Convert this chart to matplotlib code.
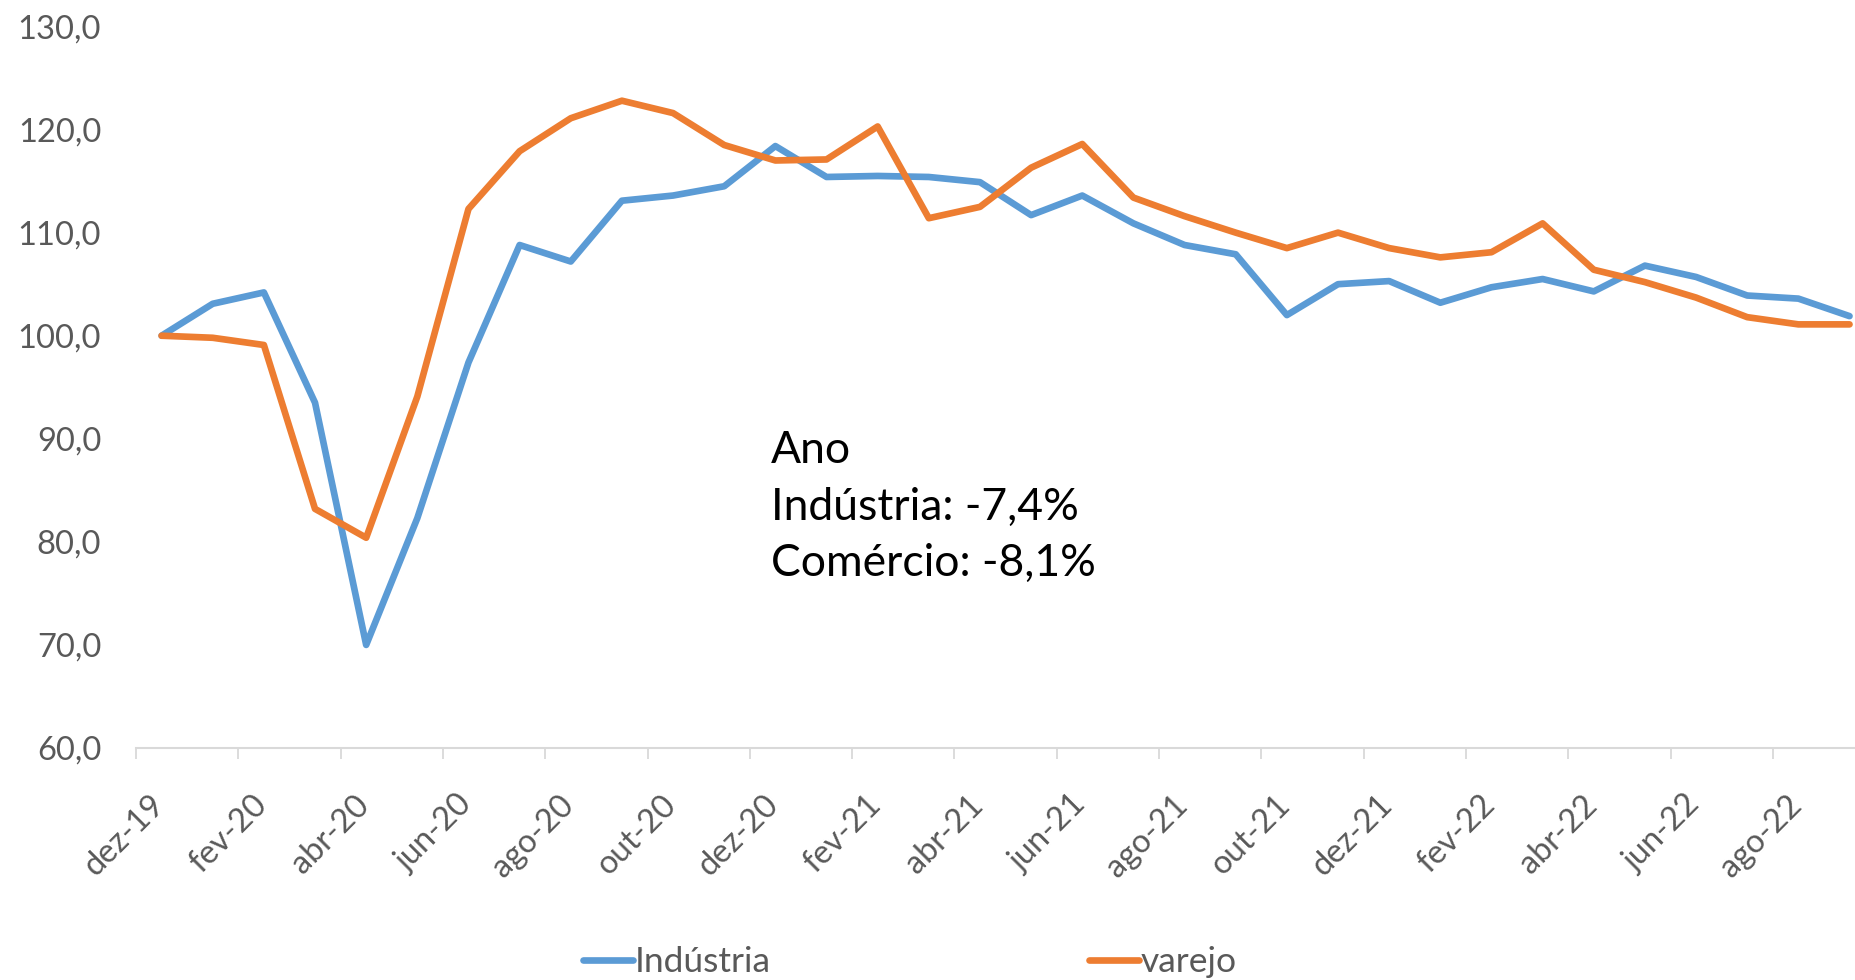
import matplotlib
matplotlib.use("Agg")
import matplotlib.pyplot as plt
from matplotlib.ticker import FixedLocator, FuncFormatter
from matplotlib.transforms import ScaledTranslation

months = ["dez-19", "jan-20", "fev-20", "mar-20", "abr-20", "mai-20", "jun-20", "jul-20",
          "ago-20", "set-20", "out-20", "nov-20", "dez-20", "jan-21", "fev-21", "mar-21",
          "abr-21", "mai-21", "jun-21", "jul-21", "ago-21", "set-21", "out-21", "nov-21",
          "dez-21", "jan-22", "fev-22", "mar-22", "abr-22", "mai-22", "jun-22", "jul-22",
          "ago-22", "set-22"]

industria = [100.0, 103.1, 104.2, 93.5, 70.0, 82.3, 97.4, 108.8, 107.2, 113.1, 113.6, 114.5,
             118.4, 115.4, 115.5, 115.4, 114.9, 111.7, 113.6, 110.9, 108.8, 107.9, 102.0, 105.0,
             105.3, 103.2, 104.7, 105.5, 104.3, 106.8, 105.7, 103.9, 103.6, 101.9]

varejo = [100.0, 99.8, 99.1, 83.2, 80.4, 94.1, 112.3, 117.9, 121.1, 122.8, 121.6, 118.5,
          117.0, 117.1, 120.3, 111.4, 112.5, 116.3, 118.6, 113.4, 111.6, 110.0, 108.5, 110.0,
          108.5, 107.6, 108.1, 110.9, 106.4, 105.2, 103.7, 101.8, 101.1, 101.1]

y_ticks = [60, 70, 80, 90, 100, 110, 120, 130]
annotation = "Ano\nIndústria: -7,4%\nComércio: -8,1%"

plt.rcParams['font.family'] = ['Lato', 'DejaVu Sans']

W, H = 1855, 980
fig = plt.figure(figsize=(W / 100, H / 100), dpi=100)
left_px, right_px = 136, 1855
bottom_px, top_px = 748, 26.5
ax = fig.add_axes([left_px / W, 1 - bottom_px / H, (right_px - left_px) / W, (bottom_px - top_px) / H])

x = list(range(len(months)))
blue = "#5B9BD5"
orange = "#ED7D31"
ax.plot(x, industria, color=blue, lw=4.8, solid_capstyle='round', solid_joinstyle='round',
        clip_on=False, label="Indústria", zorder=3)
ax.plot(x, varejo, color=orange, lw=4.8, solid_capstyle='round', solid_joinstyle='round',
        clip_on=False, label="varejo", zorder=4)

month_px = 51.15
ax.set_xlim(-0.5, -0.5 + (right_px - left_px) / month_px)
ax.set_ylim(60, 130)

grey = "#595959"
ax.yaxis.set_major_locator(FixedLocator(y_ticks))
ax.yaxis.set_major_formatter(FuncFormatter(lambda v, p: f"{v:.1f}".replace(".", ",")))
ax.tick_params(axis='y', length=0, pad=25, labelsize=23.5, labelcolor=grey)

label_pos = list(range(0, len(months), 2))
ax.set_xticks(label_pos)
ax.set_xticklabels([months[i] for i in label_pos], rotation=45, ha='right', va='top')
ax.tick_params(axis='x', which='major', length=0, pad=30, labelsize=23.5, labelcolor=grey)
offset = ScaledTranslation(9 / 100, 0, fig.dpi_scale_trans)
for lab in ax.get_xticklabels():
    lab.set_transform(lab.get_transform() + offset)
ax.set_xticks([i - 0.5 for i in label_pos], minor=True)
ax.tick_params(axis='x', which='minor', length=8, width=1.3, color="#D9D9D9", direction='out')

for s in ['left', 'right', 'top']:
    ax.spines[s].set_visible(False)
ax.spines['bottom'].set_color("#D9D9D9")
ax.spines['bottom'].set_linewidth(1.5)

fig.text(771 / W, 1 - 430 / H, annotation, fontsize=32, color="black",
         va='top', ha='left', linespacing=1.47)

leg = fig.legend(loc='center', bbox_to_anchor=(910 / W, 1 - 962 / H), ncol=2, frameon=False,
                 fontsize=25.5, handlelength=1.41, handletextpad=0.05, columnspacing=9.0,
                 labelcolor=grey)

fig.savefig("out.png", dpi=100, facecolor="white")
